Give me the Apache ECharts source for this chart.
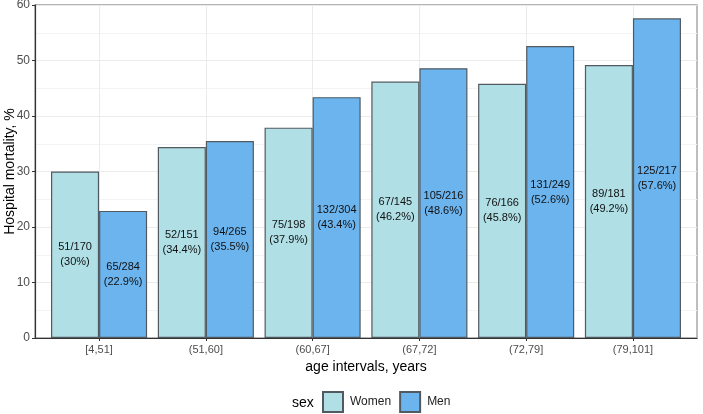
<!DOCTYPE html>
<html><head><meta charset="utf-8">
<script src="https://cdn.jsdelivr.net/npm/echarts@6/dist/echarts.min.js"></script>
<style>html,body{margin:0;padding:0;background:#fff}#c{width:703px;height:414px}</style>
</head><body><div id="c"></div>
<script>
const categories = ['[4,51]', '(51,60]', '(60,67]', '(67,72]', '(72,79]', '(79,101]'];
const women = [30, 34.4, 37.9, 46.2, 45.8, 49.2];
const men = [22.9, 35.5, 43.4, 48.6, 52.6, 57.6];
const womenCounts = ['51/170', '52/151', '75/198', '67/145', '76/166', '89/181'];
const menCounts = ['65/284', '94/265', '132/304', '105/216', '131/249', '125/217'];

const font = 'Liberation Sans, Arial, sans-serif';
const chart = echarts.init(document.getElementById('c'), null, {renderer: 'canvas'});
const panelLeft = 35, panelWidth = 662, panelTop = 5, panelHeight = 333;
const unit = panelWidth / 6.2;
const innerLeft = panelLeft + 0.1 * unit, innerWidth = 6 * unit;

function lbl(counts, vals) {
  return function (p) {
    return counts[p.dataIndex] + '\n(' + vals[p.dataIndex] + '%)';
  };
}

chart.setOption({
  animation: false,
  textStyle: {fontFamily: font},
  title: {text: 'sex', left: 292, top: 396, padding: 0, textStyle: {fontSize: 14, fontWeight: 'normal', color: '#000', fontFamily: font}},
  legend: {
    left: 322, top: 391, padding: 0, itemWidth: 20, itemHeight: 20, itemGap: 8, icon: 'rect',
    textStyle: {fontSize: 12, color: '#222', fontFamily: font, padding: [0, 0, 0, 2]},
    data: ['Women', 'Men']
  },
  grid: [
    {left: panelLeft, top: panelTop, width: panelWidth, height: panelHeight, outerBoundsMode: 'none', containLabel: false, show: true, borderColor: '#9a9a9a', borderWidth: 1.3, backgroundColor: '#fff', z: 0},
    {left: innerLeft, top: panelTop, width: innerWidth, height: panelHeight, outerBoundsMode: 'none', containLabel: false}
  ],
  xAxis: [
    {gridIndex: 0, type: 'value', min: 0, max: 1,
      axisLine: {show: true, lineStyle: {color: '#333', width: 1.2}},
      axisTick: {show: false}, axisLabel: {show: false}, splitLine: {show: false}},
    {gridIndex: 1, type: 'category', data: categories,
      axisLine: {show: false},
      axisTick: {show: true, alignWithLabel: true, length: 3, lineStyle: {color: '#333'}},
      splitLine: {show: true, alignWithLabel: true, lineStyle: {color: '#ebebeb', width: 1}},
      axisLabel: {color: '#4d4d4d', fontSize: 11, margin: 6, fontFamily: font},
      name: 'age intervals, years', nameLocation: 'middle', nameGap: 22, nameMoveOverlap: false,
      nameTextStyle: {fontSize: 14, color: '#000', fontFamily: font}
    }
  ],
  yAxis: [
    {gridIndex: 0, type: 'value', min: 0, max: 60, interval: 10,
      axisLine: {show: true, lineStyle: {color: '#333', width: 1.2}},
      axisTick: {show: true, length: 3, lineStyle: {color: '#333'}},
      axisLabel: {color: '#4d4d4d', fontSize: 12, margin: 5, fontFamily: font},
      splitLine: {show: true, lineStyle: {color: '#ebebeb', width: 1}},
      minorTick: {show: false, splitNumber: 2},
      minorSplitLine: {show: true, lineStyle: {color: '#f4f4f4', width: 1}},
      name: 'Hospital mortality, %', nameLocation: 'middle', nameGap: 18, nameMoveOverlap: false,
      nameTextStyle: {fontSize: 14, color: '#000', fontFamily: font}
    },
    {gridIndex: 1, type: 'value', min: 0, max: 60, interval: 10, show: false}
  ],
  series: [
    {name: 'Women', type: 'bar', xAxisIndex: 1, yAxisIndex: 1, data: women,
      barGap: '0%', barCategoryGap: '10%',
      itemStyle: {color: '#b0e0e6', borderColor: '#505a60', borderWidth: 1.2},
      label: {show: true, position: 'inside', formatter: lbl(womenCounts, women), color: '#111', fontSize: 11, lineHeight: 15, fontFamily: font}
    },
    {name: 'Men', type: 'bar', xAxisIndex: 1, yAxisIndex: 1, data: men,
      barGap: '0%', barCategoryGap: '10%',
      itemStyle: {color: '#6cb4ee', borderColor: '#505a60', borderWidth: 1.2},
      label: {show: true, position: 'inside', formatter: lbl(menCounts, men), color: '#111', fontSize: 11, lineHeight: 15, fontFamily: font}
    }
  ]
});
</script></body></html>
